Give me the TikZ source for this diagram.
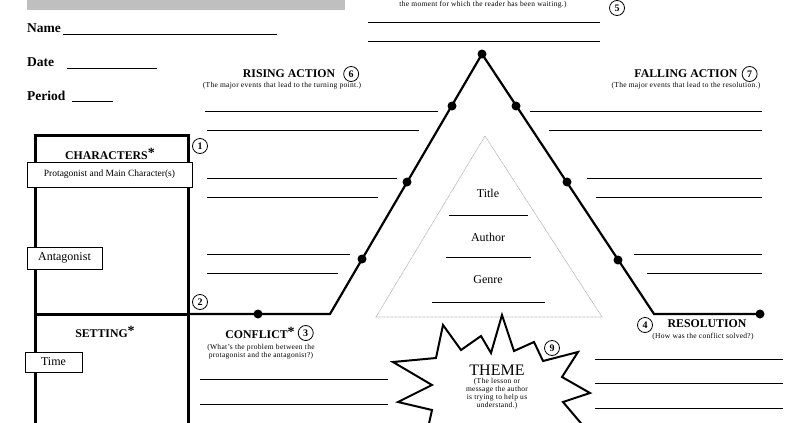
\documentclass[tikz,border=0pt]{standalone}
\usepackage{fontspec}
\setmainfont{Liberation Serif}
\usetikzlibrary{positioning}

\newcommand\reqstar{\raisebox{2.5pt}{\fontsize{14}{14}\selectfont *}}

\begin{document}
\begin{tikzpicture}[x=1pt, y=-1pt,
    heading/.style={font=\fontsize{11.8}{13}\selectfont\bfseries, inner sep=0pt},
    hint/.style={font=\fontsize{7.5}{8}\selectfont\addfontfeatures{LetterSpace=4}, align=center, inner sep=0pt},
    field/.style={font=\fontsize{13.5}{15}\selectfont\bfseries, inner sep=0pt, anchor=base west},
    num/.style={draw, circle, thick, inner sep=0pt, minimum size=15pt, font=\fontsize{10}{11}\selectfont\bfseries},
    dot/.style={circle, fill=black, inner sep=0pt, minimum size=9pt},
    tagbox/.style={draw, fill=white, inner sep=0pt, font=\fontsize{12}{14}\selectfont},
    blank/.style={line width=1pt},
    frame/.style={line width=3pt},
    plotline/.style={line width=2.2pt, line join=miter}]
    \useasboundingbox (0,0) rectangle (806,423);

    % Header
    \fill[gray!50] (27,-5) rectangle (345,10);
    \node[field] (name) at (27,32) {Name};
    \draw[blank] (63,34) -- (277,34);
    \node[field] (date) at (27,66) {Date};
    \draw[blank] (67,68) -- (157,68);
    \node[field] (period) at (27,100) {Period};
    \draw[blank] (72,101) -- (113,101);

    % Climax
    \node[hint] (climaxhint) at (483,5) {the moment for which the reader has been waiting.)};
    \node[num] (n5) at (617,8) {5};
    \draw[blank] (368,22) -- (600,22);
    \draw[blank] (368,41) -- (600,41);

    % Rising Action
    \node[heading] (rising) at (289,74) {RISING ACTION};
    \node[num, right=8pt of rising] (n6) {6};
    \node[hint] (risinghint) at (282,86) {(The major events that lead to the turning point.)};
    \draw[blank] (205,111) -- (438,111);
    \draw[blank] (207,130) -- (419,130);
    \draw[blank] (207,178) -- (397,178);
    \draw[blank] (207,197) -- (378,197);
    \draw[blank] (207,254) -- (350,254);
    \draw[blank] (207,273) -- (338,273);

    % Falling Action
    \node[heading] (falling) at (686,74) {FALLING ACTION};
    \node[num, right=4pt of falling] (n7) {7};
    \node[hint] (fallinghint) at (686,86) {(The major events that lead to the resolution.)};
    \draw[blank] (530,111) -- (762,111);
    \draw[blank] (549,130) -- (762,130);
    \draw[blank] (587,178) -- (762,178);
    \draw[blank] (596,197) -- (762,197);
    \draw[blank] (634,254) -- (762,254);
    \draw[blank] (647,273) -- (762,273);

    % Plot line
    \coordinate (start) at (188,314);
    \coordinate (rise) at (330,314);
    \coordinate (peak) at (482,54);
    \coordinate (fall) at (654,314);
    \coordinate (end) at (760,314);
    \draw[plotline] (start) -- (rise) -- (peak) -- (fall) -- (end);
    \node[dot] (expo) at (258,314) {};
    \node[dot] (r1) at (362,259) {};
    \node[dot] (r2) at (407,182) {};
    \node[dot] (r3) at (452,106) {};
    \node[dot] (top) at (peak) {};
    \node[dot] (f1) at (516,106) {};
    \node[dot] (f2) at (567,182) {};
    \node[dot] (f3) at (618,260) {};
    \node[dot] (last) at (end) {};

    % Title triangle
    \draw[gray!60, line width=0.7pt, dash pattern=on 1pt off 0.6pt] (485,136) -- (376,317) -- (602,317) -- cycle;
    \node[font=\fontsize{12}{14}\selectfont] (title) at (488,193) {Title};
    \draw[blank] (449,215) -- (528,215);
    \node[font=\fontsize{12}{14}\selectfont] (author) at (488,237) {Author};
    \draw[blank] (446,257) -- (531,257);
    \node[font=\fontsize{12}{14}\selectfont] (genre) at (488,280) {Genre};
    \draw[blank] (432,302) -- (545,302);

    % Characters and Setting box
    \draw[frame] (35,430) -- (35,135) -- (188,135) -- (188,430);
    \draw[frame] (35,314) -- (start);
    \node[heading] (characters) at (110,154) {CHARACTERS\reqstar};
    \node[num] (n1) at (200,146) {1};
    \node[tagbox, minimum width=165pt, minimum height=25pt, font=\fontsize{9.5}{11}\selectfont] (protagonist) at (109.5,174.5) {Protagonist and Main Character(s)};
    \node[tagbox, minimum width=75pt, minimum height=22pt] (antagonist) at (64.5,258) {Antagonist};
    \node[num] (n2) at (200,302) {2};
    \node[heading] (setting) at (105,332) {SETTING\reqstar};
    \node[tagbox, minimum width=57pt, minimum height=20pt] (time) at (53.5,362) {Time};

    % Conflict
    \node[heading] (conflict) at (260,333) {CONFLICT\reqstar};
    \node[num, right=3pt of conflict] (n3) {3};
    \node[hint] (conflicthint) at (261,352) {(What's the problem between the\\protagonist and the antagonist?)};
    \draw[blank] (200,379) -- (388,379);
    \draw[blank] (200,404) -- (388,404);

    % Resolution
    \node[num] (n4) at (645,325) {4};
    \node[heading] (resolution) at (707,324) {RESOLUTION};
    \node[hint] (resolutionhint) at (703,337) {(How was the conflict solved?)};
    \draw[blank] (595,359) -- (783,359);
    \draw[blank] (595,383) -- (783,383);
    \draw[blank] (595,408) -- (783,408);

    % Theme
    \draw[line width=2pt, line join=miter, fill=white] (393,362) -- (436,358) -- (443,325) -- (461,350) -- (481,336) -- (491,353) -- (502,315) -- (514,351) -- (534,342) -- (543,361) -- (578,352) -- (562,377) -- (590,393) -- (563,402) -- (585,428) -- (550,425) -- (540,440) -- (450,440) -- (428,428) -- (432,410) -- (398,402) -- (432,385) -- cycle;
    \node[font=\fontsize{16}{18}\selectfont, inner sep=0pt] (theme) at (497,370) {THEME};
    \node[hint, below=3pt of theme] (themehint) {(The lesson or\\message the author\\is trying to help us\\understand.)};
    \node[num] (n9) at (552,348) {9};
\end{tikzpicture}
\end{document}
